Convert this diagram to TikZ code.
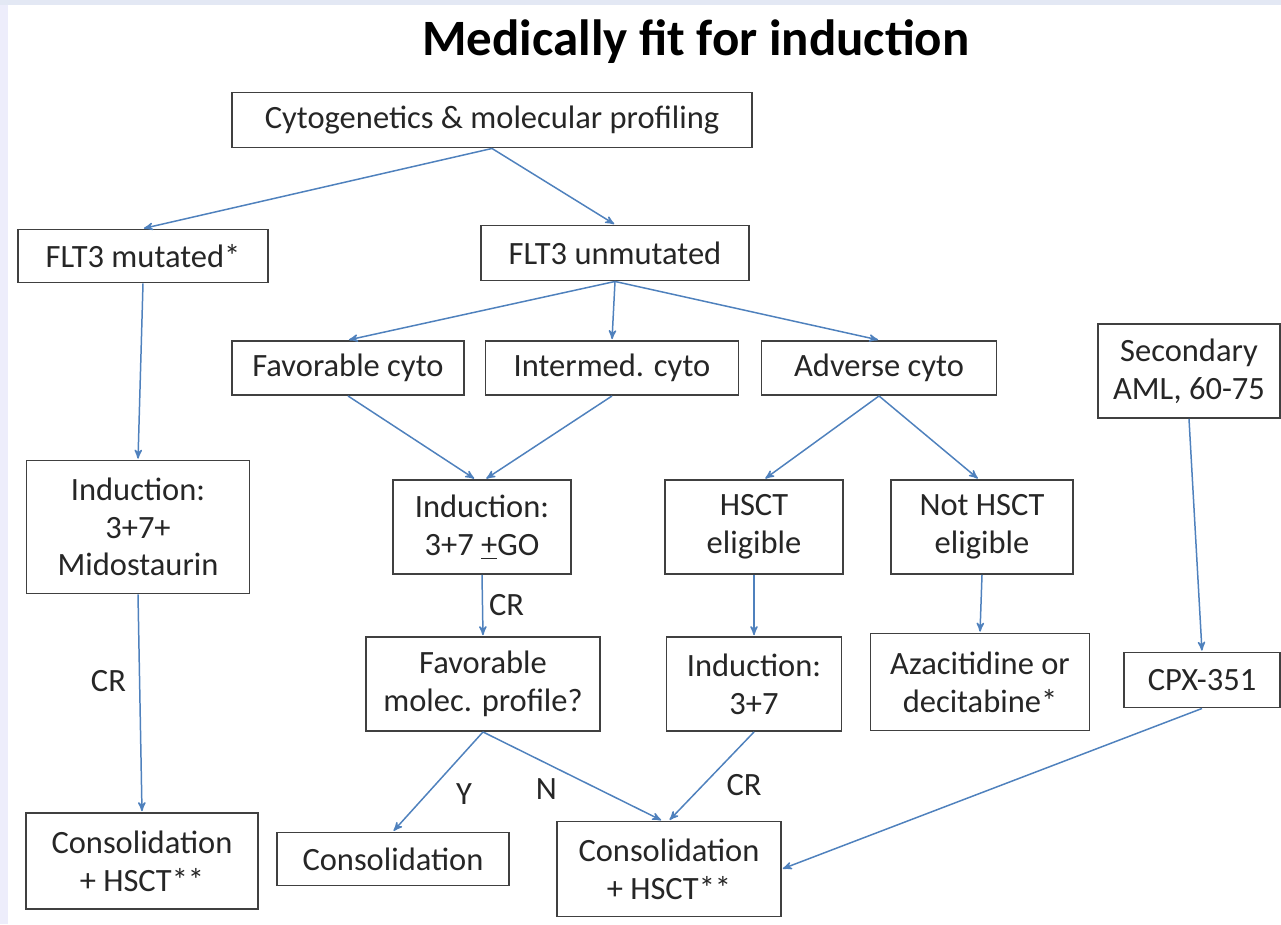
\documentclass[tikz,border=0pt]{standalone}
\usepackage{fontspec}
\setmainfont{Carlito}
\usetikzlibrary{arrows,positioning}
\definecolor{linkblue}{HTML}{4F81BD}
\definecolor{boxgray}{HTML}{404040}
\definecolor{rimtop}{HTML}{E3E8F4}
\definecolor{rimleft}{HTML}{EDEDFB}

\begin{document}
\begin{tikzpicture}[x=0.02cm,y=-0.02cm,->,>=stealth',auto,semithick]
  \tikzstyle{box}=[rectangle,draw=boxgray,line width=1.1pt,fill=white,align=center,
    inner sep=0pt,font=\fontsize{18.5}{21.5}\selectfont,text=black!85]
  \tikzstyle{link}=[draw=linkblue,line width=0.85pt,shorten >=0.5pt]
  \tikzstyle{every edge}=[link]

  \useasboundingbox (0,0) rectangle (1281,924);
  \fill[rimtop,draw=none] (0,0) rectangle (1281,5);
  \fill[rimleft,draw=none] (0,5) rectangle (8,924);

  \node[font=\fontsize{29}{32}\selectfont\bfseries] (title) at (696,42) {Medically fit for induction};

  \node[box,minimum width=10.4cm,minimum height=1.1cm]  (cyto)     at (492,120) {Cytogenetics \& molecular profiling};
  \node[box,minimum width=5.0cm,minimum height=1.06cm]  (mut)      at (143,256) {FLT3 mutated*};
  \node[box,minimum width=5.36cm,minimum height=1.1cm]  (unmut)    at (615,253) {FLT3 unmutated};
  \node[box,minimum width=4.64cm,minimum height=1.08cm] (fav)      at (348,368) {Favorable cyto};
  \node[box,minimum width=5.06cm,minimum height=1.08cm] (inter)    at (612,368) {Intermed. cyto};
  \node[box,minimum width=4.7cm,minimum height=1.08cm]  (adv)      at (879,368) {Adverse cyto};
  \node[box,minimum width=3.64cm,minimum height=1.88cm] (second)   at (1189,371) {Secondary\\AML, 60-75};

  \node[box,minimum width=4.46cm,minimum height=2.66cm] (indmido)  at (138,527) {Induction:\\3+7+\\Midostaurin};
  \node[box,minimum width=3.56cm,minimum height=1.88cm] (indgo)    at (482,527) {Induction:\\3+7 \underline{+}GO};
  \node[box,minimum width=3.56cm,minimum height=1.88cm] (hsct)     at (754,527) {HSCT\\eligible};
  \node[box,minimum width=3.64cm,minimum height=1.88cm] (nohsct)   at (982,527) {Not HSCT\\eligible};

  \node[box,minimum width=4.68cm,minimum height=1.88cm] (molec)    at (483,684) {Favorable\\molec. profile?};
  \node[box,minimum width=3.5cm,minimum height=1.88cm]  (ind37)    at (754,684) {Induction:\\3+7};
  \node[box,minimum width=4.38cm,minimum height=1.94cm] (aza)      at (980,682) {Azacitidine or\\decitabine*};
  \node[box,minimum width=3.12cm,minimum height=1.1cm]  (cpx)      at (1202,680) {CPX-351};

  \node[box,minimum width=4.64cm,minimum height=1.92cm] (consL)    at (142,861) {Consolidation\\+ HSCT**};
  \node[box,minimum width=4.64cm,minimum height=1.06cm] (cons)     at (393,859) {Consolidation};
  \node[box,minimum width=4.48cm,minimum height=1.9cm]  (consM)    at (669,869) {Consolidation\\+ HSCT**};

  \tikzstyle{every node}=[font=\fontsize{18.5}{21.5}\selectfont,text=black!85]
  \path
  (cyto.south) edge (mut.north)
  (cyto.south) edge (unmut.north)
  (mut.south) edge (indmido.north)
  (unmut.south) edge (fav.north)
  (unmut.south) edge (inter.north)
  (unmut.south) edge (adv.north)
  (fav.south) edge ([xshift=-4pt]indgo.north)
  (inter.south) edge ([xshift=2pt]indgo.north)
  (adv.south) edge ([xshift=6pt]hsct.north)
  (adv.south) edge ([xshift=-2pt]nohsct.north)
  (indgo.south) edge node {CR} (molec.north)
  (hsct.south) edge (ind37.north)
  (nohsct.south) edge (aza.north)
  (second.south) edge (cpx.north)
  (indmido.south) edge node[swap,pos=0.4,xshift=-4pt] {CR} (consL.north)
  (molec.south) edge node[pos=0.45,xshift=4pt] {Y} (cons.north)
  (molec.south) edge node[swap,pos=0.45] {N} ([xshift=-4pt]consM.north)
  (ind37.south) edge node[pos=0.4] {CR} (consM.north)
  (cpx.south) edge (consM.east);
\end{tikzpicture}
\end{document}
